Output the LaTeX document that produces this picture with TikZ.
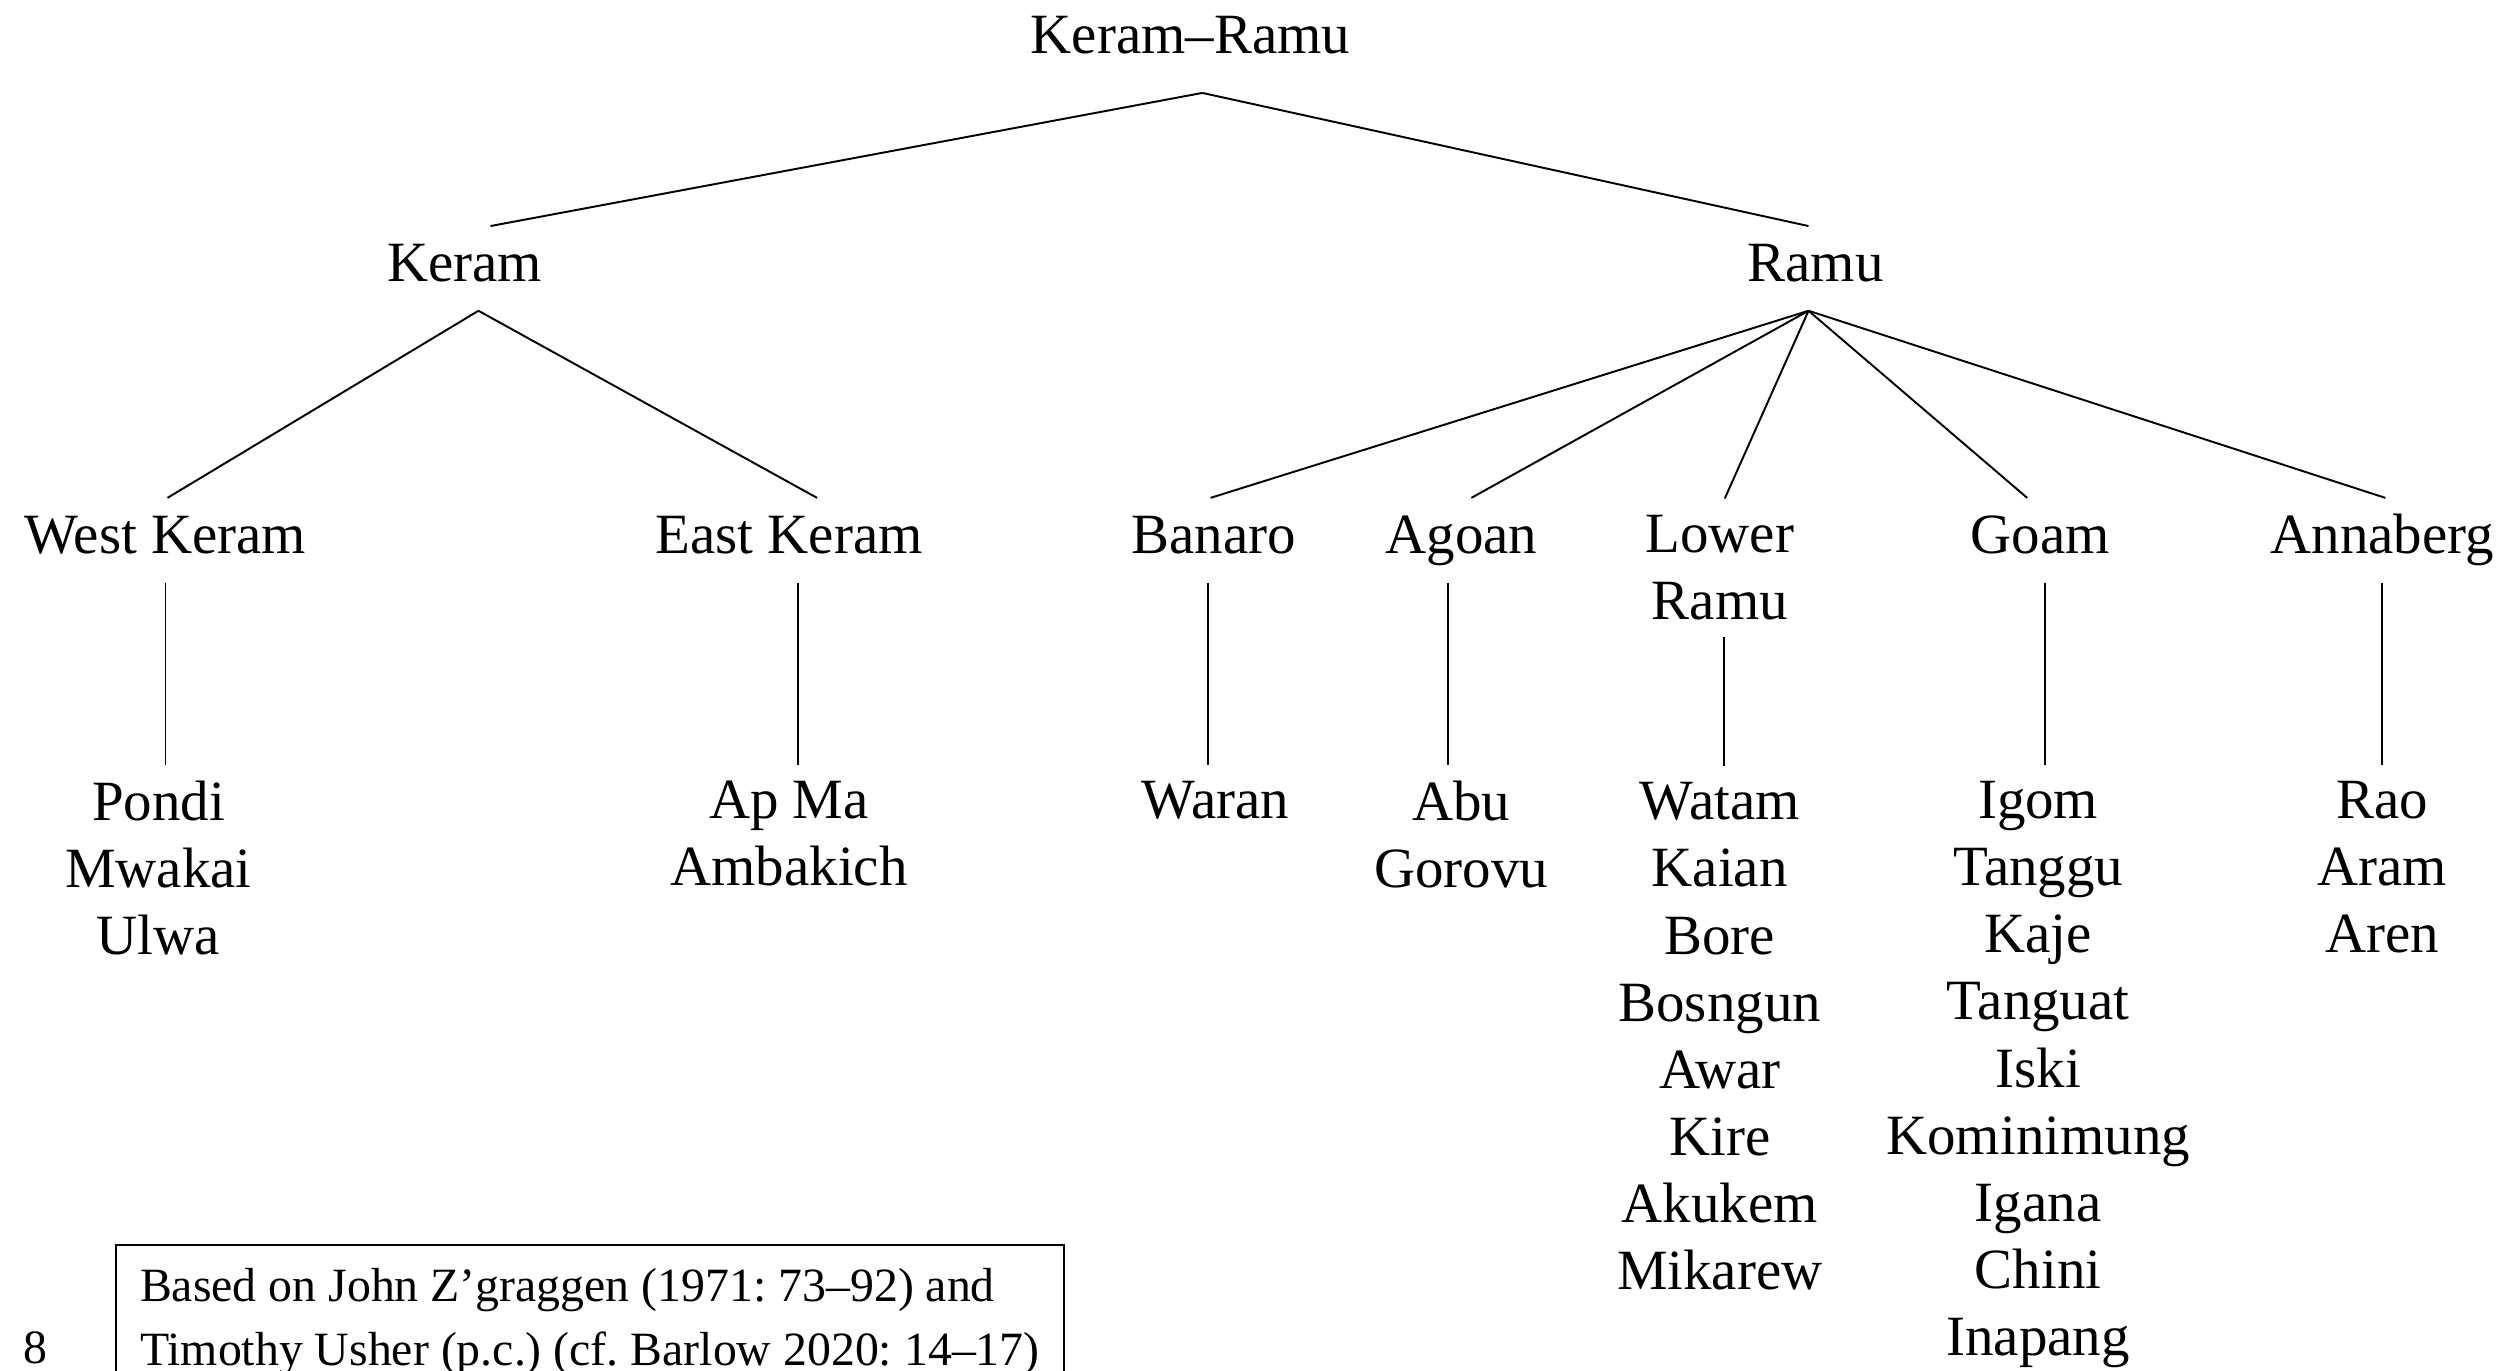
\documentclass[tikz,border=0pt]{standalone}
\usepackage{fontspec}
\setmainfont{Liberation Serif}
\frenchspacing
\usetikzlibrary{positioning}
\tikzset{
  lab/.style={font=\fontsize{16.2}{19.1}\selectfont, align=center, inner xsep=0pt, inner ysep=0.16cm},
  grp/.style={lab, anchor=base, text height=11pt, text depth=3.6pt},
  leaf/.style={lab, anchor=north},
  branch/.style={line width=0.55pt, black},
  srcbox/.style={draw, line width=0.55pt, font=\fontsize{13.6}{18.2}\selectfont, align=left, inner xsep=0.24cm, inner ysep=0.23cm}
}

\begin{document}
\begin{tikzpicture}[x=0.01599cm, y=-0.01599cm, node distance=1.82cm]
\useasboundingbox (0,0) rectangle (1568,857);
% top levels
\node[grp, inner ysep=0.26cm] (kr) at (744.5,33.5) {Keram–Ramu};
\node[grp] (keram) at (290.5,176) {Keram};
\node[grp] (ramu) at (1135.5,176) {Ramu};
% subgroups
\node[grp] (wk) at (103.5,346) {West Keram};
\node[grp] (ek) at (493.5,346) {East Keram};
\node[grp] (banaro) at (759,346) {Banaro};
\node[grp] (agoan) at (914,346) {Agoan};
\node[lab, anchor=north] (lower) at (1075.6,311.8) {Lower\\Ramu};
\node[grp] (goam) at (1276,346) {Goam};
\node[grp] (anna) at (1490,346) {Annaberg};
% languages
\node[leaf, below=of wk, xshift=-0.07cm] (wkl) {Pondi\\Mwakai\\Ulwa};
\node[leaf, below=of ek] (ekl) {Ap Ma\\Ambakich};
\node[leaf, below=of banaro, xshift=0.02cm] (banl) {Waran};
\node[leaf, below=of agoan] (agl) {Abu\\Gorovu};
\node[leaf, below=1.29cm of lower] (lrl) {Watam\\Kaian\\Bore\\Bosngun\\Awar\\Kire\\Akukem\\Mikarew};
\node[leaf, below=of goam, xshift=-0.02cm] (gol) {Igom\\Tanggu\\Kaje\\Tanguat\\Iski\\Kominimung\\Igana\\Chini\\Inapang};
\node[leaf, below=of anna] (anl) {Rao\\Aram\\Aren};
% branches
\draw[branch] ([xshift=0.12cm]kr.south) -- ([xshift=0.26cm]keram.north);
\draw[branch] ([xshift=0.12cm]kr.south) -- ([xshift=-0.07cm]ramu.north);
\foreach \c/\s in {wk/0.02, ek/0.28}
  \draw[branch] ([xshift=0.14cm]keram.south) -- ([xshift=\s cm]\c.north);
\foreach \c/\s in {banaro/-0.03, agoan/0.1, lower/0.05, goam/-0.13, anna/0.03}
  \draw[branch] ([xshift=-0.07cm]ramu.south) -- ([xshift=\s cm]\c.north);
\foreach \g/\l/\s in {wk/wkl/0, ek/ekl/0.09, banaro/banl/-0.06, agoan/agl/-0.13, lower/lrl/0.04, goam/gol/0.05, anna/anl/0}
  \draw[branch] ([xshift=\s cm]\g.south) -- ([xshift=\s cm]\g.south |- \l.north);
% source note
\node[font=\fontsize{13.6}{16}\selectfont, anchor=base, inner sep=0pt] (pg) at (22,853) {8};
\node[srcbox, anchor=north west] (src) at (72,778) {Based on John Z’graggen (1971: 73–92) and\\Timothy Usher (p.c.) (cf. Barlow 2020: 14–17)};
\end{tikzpicture}
\end{document}
